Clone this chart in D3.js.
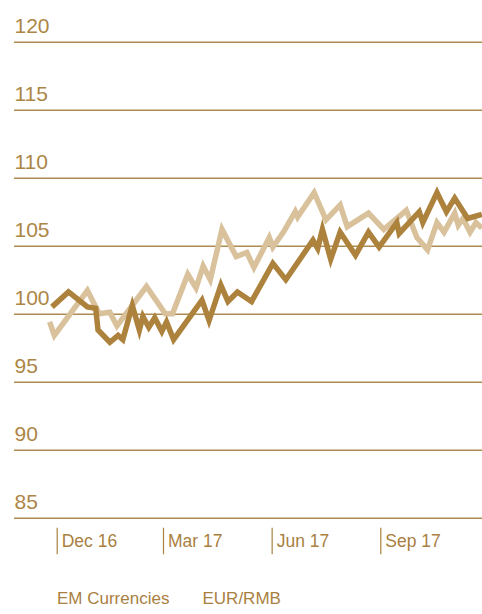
<!DOCTYPE html>
<html>
<head>
<meta charset="utf-8">
<script src="https://cdn.jsdelivr.net/npm/d3@7"></script>
<style>
  body { margin: 0; background: #fff; }
  svg text { font-family: "Liberation Sans", Arial, Helvetica, sans-serif; fill: #a9803f; }
</style>
</head>
<body>
<div id="chart"></div>
<script>
// series
var emDates = ["2016-11-27","2016-12-11","2016-12-27","2017-01-03","2017-01-05","2017-01-15","2017-01-22","2017-01-26",
  "2017-02-03","2017-02-09","2017-02-12","2017-02-17","2017-02-22","2017-02-28","2017-03-04","2017-03-10","2017-04-03",
  "2017-04-09","2017-04-19","2017-04-25","2017-05-03","2017-05-15","2017-06-02","2017-06-13","2017-07-06","2017-07-10",
  "2017-07-14","2017-07-21","2017-07-29","2017-08-11","2017-08-22","2017-08-31","2017-09-15","2017-09-17","2017-10-04",
  "2017-10-07","2017-10-19","2017-10-27","2017-11-03","2017-11-14","2017-11-26"];
var emValues = [100.5,101.6,100.5,100.4,98.8,97.9,98.4,98.1,
  100.6,98.8,99.8,99.0,99.7,98.7,99.4,98.1,101.0,
  99.5,102.1,100.9,101.6,100.9,103.7,102.5,105.4,104.8,
  106.2,104.0,106.0,104.3,106.0,104.9,106.7,105.9,107.5,
  106.7,108.9,107.5,108.5,107.0,107.3];

var eurDates = ["2016-11-25","2016-11-29","2016-12-27","2017-01-06","2017-01-15","2017-01-21","2017-02-15","2017-03-03",
  "2017-03-09","2017-03-22","2017-03-29","2017-04-04","2017-04-10","2017-04-20","2017-05-02","2017-05-11","2017-05-17",
  "2017-05-30","2017-06-02","2017-06-11","2017-06-21","2017-06-23","2017-07-07","2017-07-17","2017-07-29","2017-08-04",
  "2017-08-22","2017-09-04","2017-09-23","2017-10-02","2017-10-11","2017-10-19","2017-10-25","2017-11-03","2017-11-06",
  "2017-11-10","2017-11-16","2017-11-21","2017-11-26"];
var eurValues = [99.4,98.4,101.7,100.0,100.1,99.1,102.0,100.0,
  100.0,102.9,101.9,103.5,102.5,106.2,104.2,104.5,103.4,
  105.6,104.9,106.0,107.5,107.1,108.9,106.9,108.0,106.4,
  107.4,106.2,107.6,105.6,104.7,106.7,106.0,107.4,106.5,
  107.0,106.0,106.7,106.3];

var yTicks = [85, 90, 95, 100, 105, 110, 115, 120];
var xTicks = ["2016-12-01", "2017-03-01", "2017-06-01", "2017-09-01"];
var legendLabels = ["EM Currencies", "EUR/RMB"];

var width = 482, height = 614;
var gold = "#a9803f";
var parse = d3.timeParse("%Y-%m-%d");

var svg = d3.select("#chart").append("svg")
    .attr("width", width)
    .attr("height", height);

var x = d3.scaleTime()
    .domain([parse("2016-12-01"), parse("2017-09-01")])
    .range([56.7, 380.3]);

var y = d3.scaleLinear()
    .domain([85, 120])
    .range([517.7, 41.7]);

// horizontal grid + labels
var yAxis = svg.append("g")
    .attr("transform", "translate(14,0)")
    .call(d3.axisRight(y).tickValues(yTicks).tickSize(width - 14).tickFormat(d3.format("d")));
yAxis.select(".domain").remove();
yAxis.selectAll(".tick line")
    .attr("stroke", "#ad8a4f")
    .attr("stroke-width", 1.4);
yAxis.selectAll(".tick text")
    .attr("x", 0.5)
    .attr("dy", 0)
    .attr("y", -9.4)
    .attr("text-anchor", "start")
    .style("font-size", "21px")
    .style("fill", "#ad8646");

// quarter ticks
var xAxis = svg.append("g")
    .attr("transform", "translate(0,527.7)")
    .call(d3.axisBottom(x).tickValues(xTicks.map(parse)).tickSize(26.6).tickFormat(d3.timeFormat("%b %y")));
xAxis.select(".domain").remove();
xAxis.selectAll(".tick line")
    .attr("stroke", gold)
    .attr("stroke-width", 1.2);
xAxis.selectAll(".tick text")
    .attr("x", 4.5)
    .attr("y", 19)
    .attr("dy", 0)
    .attr("text-anchor", "start")
    .style("font-size", "17.5px")
    .style("fill", gold);

var line = d3.line()
    .x(function(d){ return x(d.date); })
    .y(function(d){ return y(d.value); });

function toPoints(dates, values){
    return dates.map(function(d, i){
        return { date: parse(d), value: values[i] };
    });
}

svg.append("path")
    .datum(toPoints(eurDates, eurValues))
    .attr("fill", "none")
    .attr("stroke", "#d8c19b")
    .attr("stroke-width", 5.5)
    .attr("stroke-linejoin", "miter")
    .attr("d", line);

svg.append("path")
    .datum(toPoints(emDates, emValues))
    .attr("fill", "none")
    .attr("stroke", "#ad823c")
    .attr("stroke-width", 5.5)
    .attr("stroke-linejoin", "miter")
    .attr("d", line);

// legend (text only)
svg.selectAll(".legend")
    .data(legendLabels)
    .enter().append("text")
    .attr("class", "legend")
    .attr("x", function(d, i){ return i === 0 ? 57 : 202.5; })
    .attr("y", 604.3)
    .style("font-size", "17px")
    .style("fill", gold)
    .text(function(d){ return d; });
</script>
</body>
</html>
